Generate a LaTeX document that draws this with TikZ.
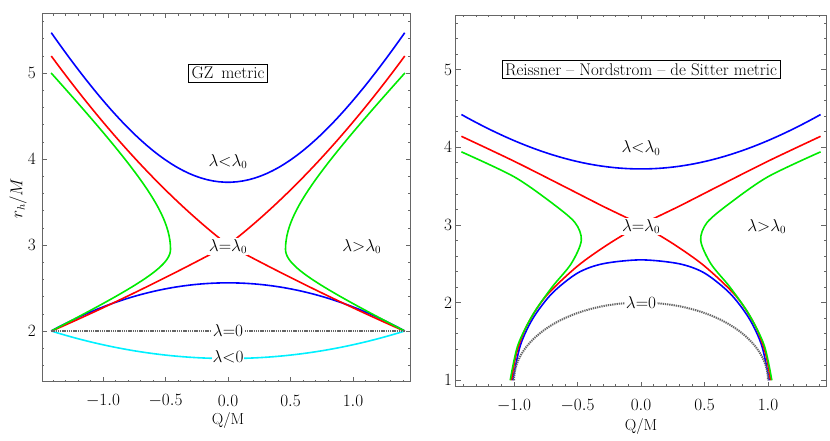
\documentclass[tikz,border=0pt]{standalone}
\usepackage{amsmath}
\usepackage{tikz}
\usetikzlibrary{positioning}

\tikzset{
  curve/.style={line width=1.6bp, line join=round},
  dotcurve/.style={line width=2bp, gray!80!black, dash pattern=on 1.3bp off 0.9bp},
  frame/.style={draw=gray!80!black, line width=0.5bp},
  tick/.style={gray!80!black, line width=0.5bp},
  lab/.style={font=\fontsize{16}{18}\selectfont, fill=white, inner sep=1pt},
  ticklab/.style={font=\fontsize{16}{18}\selectfont},
  titlebox/.style={draw, fill=white, font=\fontsize{17}{19}\selectfont, inner sep=3pt}
}
\definecolor{mgreen}{RGB}{0,235,0}
\definecolor{mcyan}{RGB}{0,240,255}

\begin{document}
\begin{tikzpicture}[x=1bp,y=1bp]
    \useasboundingbox (0,0) rectangle (830,-441);

    % Left panel: GZ metric
    \begin{scope}[xshift=228bp, yshift=-503bp, x=125bp, y=86bp]
      \draw[frame] (-1.49,1.41) rectangle (1.46,5.69);
      % ticks
      \foreach \t in {-1.4,-1.3,...,1.45} {
        \draw[tick] (\t,1.41) -- ++(0,0.025);
        \draw[tick] (\t,5.69) -- ++(0,-0.025);
      }
      \foreach \t in {-1.0,-0.5,0.0,0.5,1.0} {
        \draw[tick] (\t,1.41) -- ++(0,0.05);
        \draw[tick] (\t,5.69) -- ++(0,-0.05);
        \node[ticklab] at (\t,1.19) {$\t$};
      }
      \foreach \t in {1.6,1.8,...,5.61} {
        \draw[tick] (-1.49,\t) -- ++(0.02,0);
        \draw[tick] (1.46,\t) -- ++(-0.02,0);
      }
      \foreach \t in {2,3,4,5} {
        \draw[tick] (-1.49,\t) -- ++(0.04,0);
        \draw[tick] (1.46,\t) -- ++(-0.04,0);
        \node[ticklab] at (-1.57,\t) {$\t$};
      }
      \node[ticklab] (qmL) at (0,0.96) {Q/M};
      \node[ticklab, rotate=90] (rhL) at (-1.68,3.54) {$r_h/M$};

      % curves
      \draw[curve, blue] plot[domain=-1.414:1.414, samples=60] (\x,{sqrt(13.91+8*\x*\x)});
      \draw[curve, blue] plot[domain=-1.414:1.414, samples=60] (\x,{2.56-0.28*\x*\x});
      \foreach \s in {1,-1} {
        \draw[curve, red] plot[domain=-1.414:0, samples=40] ({\s*\x},{3.0-1.13*\x+0.3*\x*\x})
          -- plot[domain=0:1.414, samples=40] ({\s*\x},{3.0-0.78*\x+0.05*\x*\x});
        \draw[curve, mgreen] plot[domain=5:2.95, samples=40] ({\s*sqrt(0.2116+0.426*(\x-2.95)^2)},\x)
          -- plot[domain=2.95:2, samples=40] ({\s*sqrt(0.2116+1.98*(\x-2.95)^2)},\x);
      }
      \draw[curve, mcyan] plot[domain=-1.414:1.414, samples=60] (\x,{1.68+0.16*\x*\x});
      \draw[dotcurve] (-1.414,2) -- (1.414,2);

      % labels
      \node[titlebox] (gzT) at (0,5.0) {GZ\, metric};
      \node[lab, fill=none] (lessL) at (0,3.97) {$\lambda{<}\lambda_0$};
      \node[lab] (eqL) at (0,2.98) {$\lambda{=}\lambda_0$};
      \node[lab] (grL) at (1.07,2.98) {$\lambda{>}\lambda_0$};
      \node[lab] (zeroL) at (0,2.0) {$\lambda{=}0$};
      \node[lab] (negL) at (0,1.70) {$\lambda{<}0$};
    \end{scope}

    % Right panel: Reissner-Nordstrom-de Sitter
    \begin{scope}[xshift=641bp, yshift=-458bp, x=127bp, y=77.7bp]
      \draw[frame] (-1.46,0.92) rectangle (1.46,5.7);
      \foreach \t in {-1.4,-1.3,...,1.45} {
        \draw[tick] (\t,0.92) -- ++(0,0.028);
        \draw[tick] (\t,5.7) -- ++(0,-0.028);
      }
      \foreach \t in {-1.0,-0.5,0.0,0.5,1.0} {
        \draw[tick] (\t,0.92) -- ++(0,0.055);
        \draw[tick] (\t,5.7) -- ++(0,-0.055);
        \node[ticklab] at (\t,0.68) {$\t$};
      }
      \foreach \t in {1.2,1.4,...,5.61} {
        \draw[tick] (-1.46,\t) -- ++(0.02,0);
        \draw[tick] (1.46,\t) -- ++(-0.02,0);
      }
      \foreach \t in {1,2,3,4,5} {
        \draw[tick] (-1.46,\t) -- ++(0.04,0);
        \draw[tick] (1.46,\t) -- ++(-0.04,0);
        \node[ticklab] at (-1.52,\t) {$\t$};
      }
      \node[ticklab] (qmR) at (0,0.40) {Q/M};

      % curves
      \draw[curve, blue] plot[domain=-1.414:1.414, samples=60] (\x,{sqrt(13.84+2.85*\x*\x)});
      \draw[curve, blue] plot[smooth] coordinates {(-1.01,1.0) (-0.95,1.45) (-0.85,1.8) (-0.7,2.12) (-0.5,2.38) (-0.3,2.5) (0,2.55) (0.3,2.5) (0.5,2.38) (0.7,2.12) (0.85,1.8) (0.95,1.45) (1.01,1.0)};
      \foreach \s in {1,-1} {
        \draw[curve, red] plot[smooth] coordinates {({-1.414*\s},4.14) ({-1.0*\s},3.82) ({-0.6*\s},3.49) ({-0.3*\s},3.24) (0,3.0) ({0.25*\s},2.76) ({0.5*\s},2.47) ({0.75*\s},2.08) ({0.9*\s},1.7) ({0.98*\s},1.35) ({1.02*\s},1.0)};
        \draw[curve, mgreen] plot[smooth] coordinates {({1.414*\s},3.94) ({1.0*\s},3.62) ({0.7*\s},3.28) ({0.52*\s},3.03) ({0.47*\s},2.8) ({0.55*\s},2.5) ({0.7*\s},2.2) ({0.85*\s},1.85) ({0.97*\s},1.45) ({1.03*\s},1.0)};
      }
      \draw[dotcurve] (-1,1) arc[start angle=180, end angle=0, x radius=1, y radius=1];

      % labels
      \node[titlebox] (rnT) at (0,5.0) {Reissner -- Nordstrom -- de Sitter metric};
      \node[lab, fill=none] (lessR) at (0,3.99) {$\lambda{<}\lambda_0$};
      \node[lab] (eqR) at (0,2.98) {$\lambda{=}\lambda_0$};
      \node[lab] (grR) at (0.99,2.98) {$\lambda{>}\lambda_0$};
      \node[lab] (zeroR) at (0,2.0) {$\lambda{=}0$};
    \end{scope}
\end{tikzpicture}
\end{document}
